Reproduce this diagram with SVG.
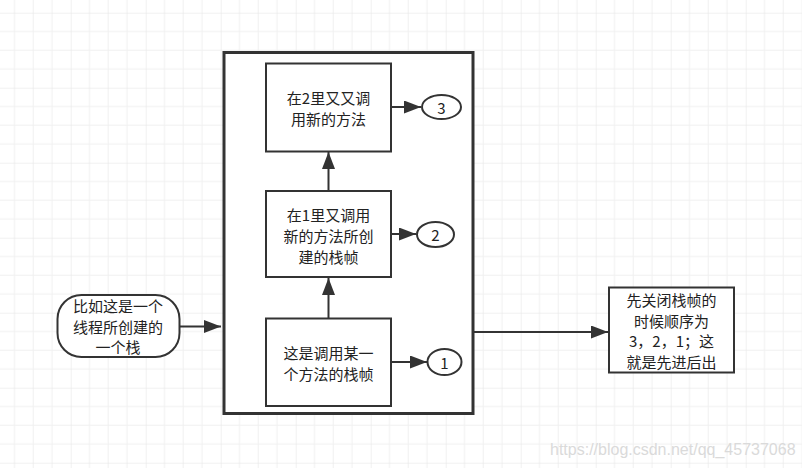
<svg xmlns="http://www.w3.org/2000/svg" width="802" height="468" viewBox="0 0 802 468">
<style>
.box{fill:#fff;stroke:#333;stroke-width:2}
.outer{fill:#fff;stroke:#333;stroke-width:3}
.edge{fill:none;stroke:#333;stroke-width:2}
.t{font-family:"Noto Sans CJK SC","Microsoft YaHei","Noto Sans",sans-serif;font-size:15px;fill:#222;text-anchor:middle;dominant-baseline:central}
.wm{font-family:"Liberation Sans",Arial,sans-serif;font-size:16px;fill:#dadada}
</style>
<defs>
<pattern id="grid" patternUnits="userSpaceOnUse" x="-4.3" y="12.7" width="75" height="75">
<path d="M18.75 0V75M37.5 0V75M56.25 0V75M0 18.75H75M0 37.5H75M0 56.25H75" stroke="#f0f0f0" stroke-width="1" fill="none"/>
<path d="M0 0V75M0 0H75" stroke="#e4e4e4" stroke-width="1" fill="none"/>
</pattern>
<marker id="arr" markerUnits="userSpaceOnUse" markerWidth="18" markerHeight="14" refX="17" refY="6.5" orient="auto">
<path d="M0,0 L17,6.5 L0,13 z" fill="#333"/>
</marker>
</defs>
<rect width="802" height="468" fill="#fff"/>
<rect width="802" height="468" fill="url(#grid)"/>
<text class="wm" x="550" y="455">https://blog.csdn.net/qq_45737068</text>

<g id="stack">
<rect class="outer" x="224" y="52.5" width="249" height="361"/>
</g>

<g id="connectors">
<path class="edge" d="M328.5 318V278" marker-end="url(#arr)"/>
<path class="edge" d="M328.5 191V152" marker-end="url(#arr)"/>
<path class="edge" d="M391 107H421" marker-end="url(#arr)"/>
<path class="edge" d="M391 234H416" marker-end="url(#arr)"/>
<path class="edge" d="M391 362H427" marker-end="url(#arr)"/>
<path class="edge" d="M179 326.5H221" marker-end="url(#arr)"/>
<path class="edge" d="M473 332H608" marker-end="url(#arr)"/>
</g>

<g id="frame3">
<rect class="box" x="266" y="63.5" width="125" height="88"/>
<text class="t" x="328.5" y="97.5">在2里又又调</text>
<text class="t" x="328.5" y="118">用新的方法</text>
</g>
<g id="frame2">
<rect class="box" x="266" y="191" width="125" height="86"/>
<text class="t" x="328.5" y="214.5">在1里又调用</text>
<text class="t" x="328.5" y="235.5">新的方法所创</text>
<text class="t" x="328.5" y="256.5">建的栈帧</text>
</g>
<g id="frame1">
<rect class="box" x="266" y="318.5" width="125" height="87.5"/>
<text class="t" x="328.5" y="352">这是调用某一</text>
<text class="t" x="328.5" y="373">个方法的栈帧</text>
</g>
<g id="c3">
<ellipse class="box" cx="441.5" cy="107" rx="19.5" ry="12"/>
<text class="t" x="441.5" y="107">3</text>
</g>
<g id="c2">
<ellipse class="box" cx="435.5" cy="234.5" rx="18.5" ry="12.5"/>
<text class="t" x="435.5" y="234.5">2</text>
</g>
<g id="c1">
<ellipse class="box" cx="444.5" cy="362" rx="17" ry="13"/>
<text class="t" x="444.5" y="362">1</text>
</g>
<g id="thread">
<rect class="box" x="57.5" y="295" width="122" height="62" rx="24" ry="24"/>
<text class="t" x="118" y="305.5">比如这是一个</text>
<text class="t" x="118" y="326">线程所创建的</text>
<text class="t" x="118" y="346.5">一个栈</text>
</g>
<g id="note">
<rect class="box" x="609" y="287.5" width="125" height="85"/>
<text class="t" x="671.5" y="299.5">先关闭栈帧的</text>
<text class="t" x="671.5" y="320">时候顺序为</text>
<text class="t" x="671.5" y="340.5">3，2，1；这</text>
<text class="t" x="671.5" y="361">就是先进后出</text>
</g>
</svg>
